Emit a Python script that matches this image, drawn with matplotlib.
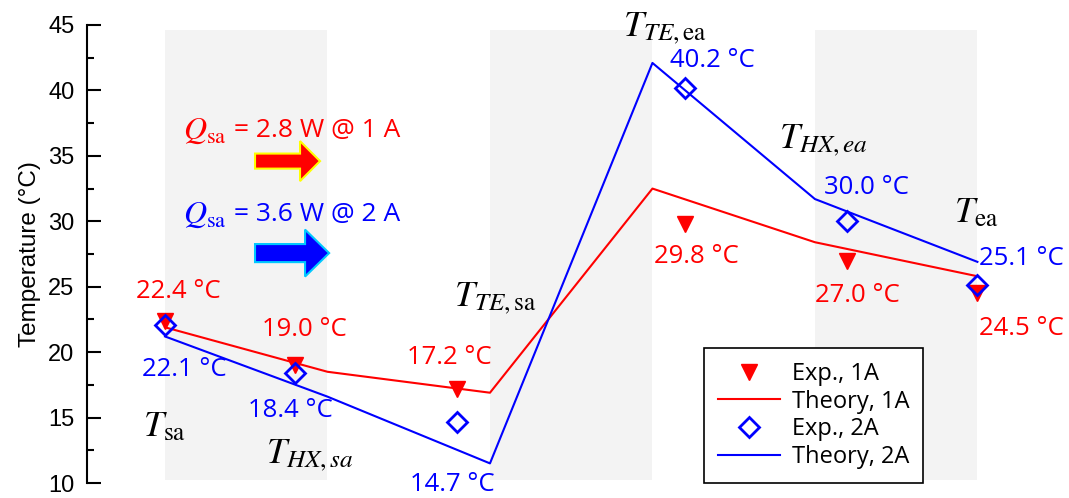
import numpy as np
import matplotlib
matplotlib.use('Agg')
import matplotlib.pyplot as plt
from matplotlib.patches import FancyArrow
from matplotlib.ticker import MultipleLocator

plt.rcParams['font.family'] = ['Open Sans', 'DejaVu Sans']
plt.rcParams['mathtext.fontset'] = 'stix'

# stations along the air path
stations = [r'$T_{\mathrm{sa}}$', r'$T_{HX,sa}$', r'$T_{TE,\mathrm{sa}}$',
            r'$T_{TE,\mathrm{ea}}$', r'$T_{HX,ea}$', r'$T_{\mathrm{ea}}$']
x_theory = [0, 1, 2, 3, 4, 5]
x_exp = [0.0, 0.8, 1.8, 3.2, 4.2, 5.0]

exp_1a = [22.4, 19.0, 17.2, 29.8, 27.0, 24.5]
theory_1a = [21.9, 18.5, 16.9, 32.5, 28.4, 25.8]
exp_2a = [22.1, 18.4, 14.7, 40.2, 30.0, 25.1]
theory_2a = [21.2, 16.6, 11.5, 42.1, 31.7, 26.9]

red = '#ff0000'
blue = '#0000ff'

fig = plt.figure(figsize=(10.69, 4.98), dpi=100)
ax = fig.add_axes([0.0814, 0.0301, 0.915, 0.9197])

# grey bands
for a in (0, 2, 4):
    ax.axvspan(a, a + 1, ymin=0.006, ymax=0.99, color='#f3f3f3', zorder=0, lw=0)

ax.plot(x_theory, theory_1a, color=red, lw=1.5, label='Theory, 1A', zorder=2)
ax.plot(x_theory, theory_2a, color=blue, lw=1.5, label='Theory, 2A', zorder=2)
ax.plot(x_exp, exp_1a, 'v', color=red, ms=12, label='Exp., 1A', zorder=3)
ax.plot(x_exp, exp_2a, 'D', mfc='none', mec=blue, mew=2, ms=10,
        label='Exp., 2A', zorder=4)

# value labels
red_pos = [(0.08, 24.6), (0.86, 21.76), (1.75, 19.62), (3.27, 27.34), (4.26, 24.36), (5.27, 21.83)]
blue_pos = [(0.12, 18.7), (0.77, 15.57), (1.77, 9.91), (3.37, 42.32), (4.32, 32.61), (5.27, 27.19)]
for v, (x, y) in zip(exp_1a, red_pos):
    ax.text(x, y, f'{v:.1f} °C', color=red, fontsize=18.5, ha='center', va='center')
for v, (x, y) in zip(exp_2a, blue_pos):
    ax.text(x, y, f'{v:.1f} °C', color=blue, fontsize=18.5, ha='center', va='center')

# station names
name_pos = [(0.0, 14.27), (0.89, 12.13), (2.03, 24.13), (3.08, 44.77), (4.05, 36.21), (4.99, 30.63)]
for s, (x, y) in zip(stations, name_pos):
    ax.text(x, y, s, color='black', fontsize=26, ha='center', va='center')

# heat load notes with arrows
for txt, col, y in ((' = 2.8 W @ 1 A', red, 36.97), (' = 3.6 W @ 2 A', blue, 30.55)):
    q = ax.text(0.11, y, r'$Q_{\mathrm{sa}}$', color=col, fontsize=23,
                ha='left', va='center')
    ax.annotate(txt, xy=(1, 0.5), xycoords=q, color=col, fontsize=19,
                ha='left', va='center')
ax.add_patch(FancyArrow(0.554, 34.60, 0.40, 0, width=1.15, head_width=3.06,
                        head_length=0.123, length_includes_head=True,
                        fc=red, ec='#ffff00', lw=1.5, zorder=3))
ax.add_patch(FancyArrow(0.554, 27.57, 0.456, 0, width=1.38, head_width=3.59,
                        head_length=0.148, length_includes_head=True,
                        fc=blue, ec='#00c8ff', lw=1.5, zorder=3))

ax.set_xlim(-0.48, 5.54)
ax.set_ylim(10, 45)
ax.yaxis.set_major_locator(MultipleLocator(5))
ax.yaxis.set_minor_locator(MultipleLocator(2.5))
ax.tick_params(axis='y', which='major', direction='in', length=10, width=1.5,
               labelsize=17, pad=9)
ax.tick_params(axis='y', which='minor', direction='in', length=5, width=1.5)
ax.set_xticks([])
for lab in ax.get_yticklabels():
    lab.set_fontfamily('Liberation Sans')
for sp in ('top', 'right', 'bottom'):
    ax.spines[sp].set_visible(False)
ax.spines['left'].set_linewidth(1.5)
ax.set_ylabel('Temperature (°C)', fontsize=17.5, fontfamily='Liberation Sans', labelpad=5)

handles, labels = ax.get_legend_handles_labels()
order = [2, 0, 3, 1]
leg = ax.legend([handles[i] for i in order], [labels[i] for i in order],
                loc='lower right', bbox_to_anchor=(0.855, 0.0), borderaxespad=0,
                fontsize=17, fancybox=False, edgecolor='black', framealpha=1,
                labelspacing=0.15, handlelength=2.6, handletextpad=0.5,
                borderpad=0.6)
leg.get_frame().set_linewidth(1.2)

fig.savefig('out.png', dpi=100)
